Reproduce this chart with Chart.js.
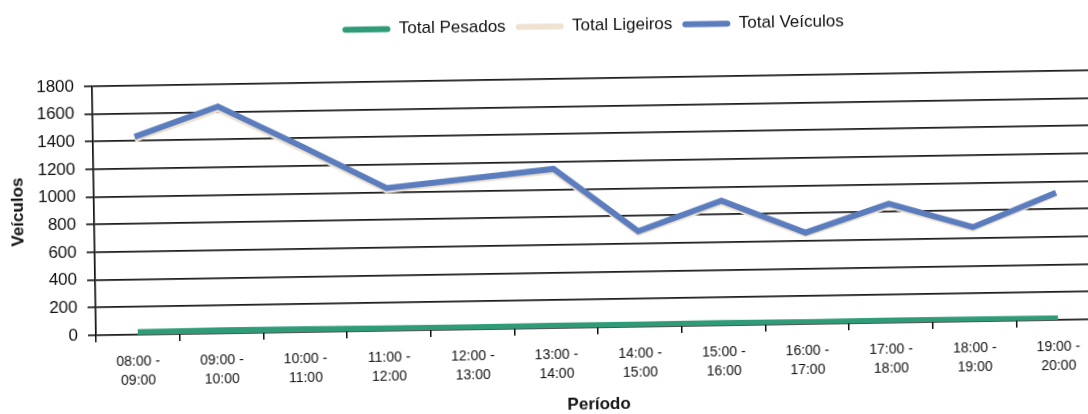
<!DOCTYPE html>
<html>
<head>
<meta charset="utf-8">
<script src="https://cdn.jsdelivr.net/npm/chart.js@4.4.1/dist/chart.umd.min.js"></script>
<style>
  html, body { margin: 0; padding: 0; background: #fff; overflow: hidden; }
  #wrap { width: 1088px; height: 414px; overflow: hidden; position: relative; background: #fff; }
  #chart { position: absolute; left: 0; top: 0; transform-origin: 552px 207px; transform: rotate(-0.92deg); }
</style>
</head>
<body>
<div id="wrap"><canvas id="chart" width="1104" height="414"></canvas></div>
<script>
// contagem horaria de veiculos
var periodos = [
    ["08:00 -", "09:00"], ["09:00 -", "10:00"], ["10:00 -", "11:00"], ["11:00 -", "12:00"],
    ["12:00 -", "13:00"], ["13:00 -", "14:00"], ["14:00 -", "15:00"], ["15:00 -", "16:00"],
    ["16:00 -", "17:00"], ["17:00 -", "18:00"], ["18:00 -", "19:00"], ["19:00 -", "20:00"]
];
var totalPesados = [18, 22, 20, 16, 15, 17, 14, 16, 13, 15, 12, 10];
var totalLigeiros = [1412, 1618, 1320, 1014, 1075, 1133, 676, 884, 647, 845, 668, 910];
var totalVeiculos = [1430, 1640, 1340, 1030, 1090, 1150, 690, 900, 660, 860, 680, 920];

var yMin = 0;
var yMax = 1800;
var yStep = 200;

Chart.defaults.font.family = "'Liberation Sans', Arial, sans-serif";
Chart.defaults.color = "#111";

// extra room between the legend and the plot
var legendSpace = {
    id: "legendSpace",
    beforeInit: function (chart) {
        var fit = chart.legend.fit;
        chart.legend.fit = function () {
            fit.bind(chart.legend)();
            this.height += 34;
        };
    },
};

var ctx = document.getElementById("chart").getContext("2d");
var chart = new Chart(ctx, {
    type: "line",
    data: {
        labels: periodos,
        datasets: [
            {
                label: "Total Pesados",
                data: totalPesados,
                borderColor: "#2f9b78",
                backgroundColor: "#2f9b78",
                borderWidth: 6,
                pointRadius: 0,
                order: 2,
            },
            {
                label: "Total Ligeiros",
                data: totalLigeiros,
                borderColor: "#efe2d3",
                backgroundColor: "#efe2d3",
                borderWidth: 6,
                pointRadius: 0,
                order: 1,
            },
            {
                label: "Total Veículos",
                data: totalVeiculos,
                borderColor: "#5b7dbd",
                backgroundColor: "#5b7dbd",
                borderWidth: 6,
                pointRadius: 0,
                order: 0,
            },
        ],
    },
    options: {
        responsive: false,
        animation: false,
        devicePixelRatio: 1,
        layout: {
            padding: { top: 8, right: 6, left: 0, bottom: 0 },
        },
        plugins: {
            legend: {
                position: "top",
                fullSize: false,
                labels: {
                    boxWidth: 48,
                    boxHeight: 6,
                    padding: 10,
                    useBorderRadius: true,
                    borderRadius: 3,
                    color: "#111",
                    font: { size: 17 },
                    sort: function (a, b) {
                        return a.datasetIndex - b.datasetIndex;
                    },
                    generateLabels: function (chart) {
                        return Chart.defaults.plugins.legend.labels.generateLabels(chart).map(function (l) {
                            l.lineWidth = 0;
                            return l;
                        });
                    },
                },
            },
            tooltip: { enabled: false },
        },
        scales: {
            x: {
                offset: true,
                grid: {
                    offset: true,
                    drawOnChartArea: false,
                    color: "#111",
                    lineWidth: 1.5,
                    tickLength: 7,
                },
                border: { display: false },
                ticks: {
                    maxRotation: 0,
                    autoSkip: false,
                    padding: 10,
                    color: "#111",
                    font: { size: 14, lineHeight: 1.4 },
                },
                title: {
                    display: true,
                    text: "Período",
                    color: "#111",
                    font: { size: 17, weight: "bold", lineHeight: 1 },
                    padding: { top: 0, bottom: 0 },
                },
                afterFit: function (scale) {
                    scale.height = 86;
                },
            },
            y: {
                min: yMin,
                max: yMax,
                ticks: {
                    stepSize: yStep,
                    padding: 10,
                    color: "#111",
                    format: { useGrouping: false },
                    font: { size: 17 },
                },
                grid: {
                    color: "#1c1c1c",
                    lineWidth: 1.7,
                    tickLength: 8,
                },
                border: { color: "#111", width: 1.7 },
                title: {
                    display: true,
                    text: "Veículos",
                    color: "#111",
                    font: { size: 17, weight: "bold" },
                    padding: { top: 8, bottom: 0 },
                },
                afterFit: function (scale) {
                    scale.width = 94;
                },
            },
        },
    },
    plugins: [legendSpace],
});
</script>
</body>
</html>
